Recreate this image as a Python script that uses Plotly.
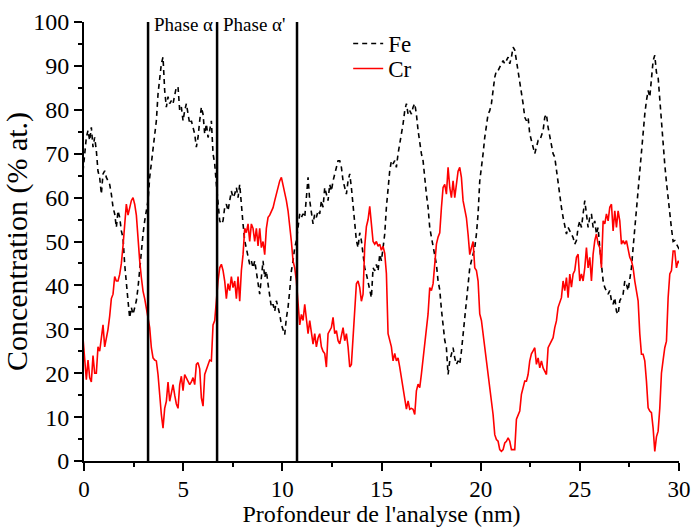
import plotly.graph_objects as go

# Depth sampling grid (nm): uniform step, start
DEPTH_START = -0.05
DEPTH_STEP = 0.08405

FE = [
    66, 70, 73.7, 75.3, 73, 76, 71.5, 73.7, 70.7, 66,
    64.6, 60.8, 65.4, 66.1, 64.6, 63.8, 63, 60.8, 57.8, 56.3,
    53.2, 57, 55.5, 52.4, 50.9, 44.8, 39.5, 36.5, 32.6, 35,
    33.4, 35, 36.5, 39.5, 44, 48.6, 51.7, 54.7, 57, 59.3,
    64.6, 67.7, 71.5, 74.5, 77.5, 83.6, 87.4, 90.5, 92, 84.4,
    80.6, 83, 81.4, 82.1, 81.4, 83.6, 85.2, 85.2, 79.8, 80.6,
    77.5, 79.8, 81.4, 79.1, 76.8, 77.5, 76, 74.5, 71.5, 73.7,
    # 70
    77.5, 80.6, 79, 74.5, 76.8, 73.7, 75.3, 77.5, 70, 67.7,
    63, 58.5, 54.7, 54, 54.7, 57.8, 58.5, 57, 59.3, 61.5,
    60, 60.8, 62.3, 60, 63, 57.8, 54, 50.2, 48.6, 46.4,
    44.8, 45.6, 44, 45.6, 43.3, 41, 38, 41.8, 45.6, 41.8,
    43.3, 40.3, 37.2, 35, 35.7, 34.1, 36.5, 35, 33.4, 31.1,
    29.6, 28.8, 32.6, 35, 38.8, 43.3, 45.6, 48.6, 50.2, 53.2,
    56.3, 55.5, 56.3, 55.5, 60.8, 64.6, 59.3, 56.3, 54, 56.3,
    55.5, 57,
    # 142
    56.3, 59.3, 57.8, 62.3, 60.8, 59.3, 63, 61.5, 63.8, 65.4,
    66.9, 68.4, 68.4, 66.9, 63.8, 62.3, 60.8, 63.8, 65.4, 62.3,
    57.8, 54.7, 50.2, 48.6, 52, 50.2, 47.1, 44, 42.6, 41,
    38.8, 37.2, 44, 43.3, 44.8, 43.3, 47.1, 45.6, 48.6, 51.7,
    57.8, 62.3, 66.1, 68.4, 67.7, 68.4, 66.9, 70, 72.2, 73.7,
    76.8, 79.8, 81.4, 79, 79.8, 79, 80.6, 81.4, 79, 75.3,
    72.2, 70, 68.4, 63.8, 60.8, 57.8, 53.2, 51, 48.6, 47.1,
    44.8, 41,
    # 214
    39, 34.5, 30, 27.5, 25.8, 19.7, 22.8, 24.3, 25.8, 23.5,
    22, 22.8, 22, 25, 28.8, 31.1, 35.7, 38.8, 44, 45.6,
    47.1, 48.6, 51.7, 56.3, 63.8, 67.7, 70, 73.7, 76.8, 79,
    79.8, 81.4, 84.4, 87.4, 88.9, 88.9, 89.7, 90.5, 91.2, 90.5,
    91.2, 92, 90.5, 92, 94.3, 93.6, 91.2, 88.9, 86.6, 84.4,
    81.4, 78.3, 77.5, 78.3, 74.5, 73, 71.5, 70, 71.5, 73,
    73, 74.5, 75.3, 78.3, 79, 76, 73.7, 71.5, 70, 69.2,
    66.1, 63.8,
    # 286
    60.8, 57.8, 55.5, 53.2, 51.7, 53.2, 52.4, 51.7, 50.9, 49.4,
    50.2, 53.2, 54.7, 53.2, 56.3, 59.3, 56.3, 53.2, 55.5, 56.3,
    53.2, 54.7, 51.7, 53.2, 48.6, 44, 41, 39.5, 38.8, 38,
    38.8, 36.5, 35.7, 37.2, 34.1, 33.4, 36.5, 37.2, 38, 41,
    40.3, 38.8, 41, 44, 48.6, 53.2, 57.8, 60.8, 65.4, 70.7,
    74.5, 79, 82.1, 84.4, 82.9, 87.4, 91.2, 92.4, 88.5, 87.4,
    82, 76, 71, 67.5, 63.5, 59.5, 56, 53, 50, 50.2,
    49.4, 48.6, 48,
]

CR = [
    28, 24, 18.5, 23, 19, 18, 24, 20, 20, 26,
    25, 28, 31, 26, 28, 30, 33, 37, 38, 42,
    41, 41, 42.5, 45, 49, 55, 58.5, 56, 58, 59.3,
    60, 58.5, 56, 50, 45.6, 41.8, 38.7, 37, 35, 32.6,
    30.4, 25.8, 23.5, 23, 22.8, 19.7, 14.4, 10.6, 7.5, 12,
    13.6, 18, 13.6, 16, 17.4, 15, 13, 12, 17.4, 19.3,
    16, 19.7, 19, 18, 17.4, 18, 19, 17.4, 22, 22.4,
    # 70
    21, 14.4, 12.5, 19.7, 21, 22, 23, 22.8, 31, 32,
    37, 41, 44, 44.8, 43.4, 41, 37, 40.4, 38.8, 42,
    39.5, 41, 37, 42, 36.4, 43.4, 47, 53, 52, 54,
    50, 54, 53, 50, 53, 49, 53, 48.6, 50, 47,
    53, 55.5, 56, 57, 57.7, 59.3, 60.8, 62.3, 63.8, 64.6,
    63, 60.8, 59.3, 57, 54, 50, 45.6, 44, 41, 36.4,
    31, 33.4, 32, 35.7, 32, 29, 32, 29, 26.6, 29,
    26, 28,
    # 142
    29, 26, 25, 24.5, 21.4, 29, 29.7, 30.4, 32.7, 29,
    29.7, 27.4, 26.7, 29, 30.4, 27.4, 29, 26, 21.4, 22,
    29, 33.5, 40.4, 41, 39.5, 36.4, 38, 48.9, 53.4, 55,
    58, 54, 50, 49.4, 50, 48.9, 49.4, 48, 48.9, 47.3,
    42.7, 29, 27.4, 26, 22.8, 24.5, 22.8, 23.5, 21.4, 19,
    17.5, 15.2, 11.8, 13.7, 11.8, 12, 11.8, 10.6, 16, 17.5,
    16.7, 19.8, 23.5, 26, 29.7, 33.5, 39.5, 38.8, 40.4, 45,
    49.4, 51,
    # 214
    52, 57.7, 62.3, 63, 60.8, 66.9, 62.3, 60, 63.8, 60,
    63.8, 66, 66.9, 64.6, 59.3, 57.7, 55.4, 51.6, 47, 48.6,
    50, 44, 43.4, 41, 33.5, 32, 29, 26, 22.8, 19,
    16, 13.7, 10.6, 6, 4.9, 4.5, 2.6, 2.2, 2.6, 4.1,
    4.5, 5.3, 4.5, 2.6, 2.6, 2.6, 9.5, 10.6, 11.4, 15.2,
    16.7, 18.2, 18.2, 19.7, 22.8, 24.4, 25.1, 25.8, 22, 23.5,
    21.2, 22.8, 21.2, 20.5, 19.7, 25.8, 26.6, 27.4, 28.1, 30.4,
    31.9, 35,
    # 286
    36, 37.2, 41, 38.8, 41.8, 37.2, 42.6, 39.6, 42.6, 43.4,
    46.4, 47.1, 41, 42.6, 41, 44, 48.6, 44, 46.4, 41,
    47.1, 50.2, 51.7, 49.4, 48.6, 44, 54.7, 54, 56.3, 54.7,
    57.8, 58.5, 52.4, 57, 53.2, 57, 54.7, 49.4, 50.2, 49.4,
    50.2, 48.6, 46.4, 45.6, 44, 41, 38.8, 36.5, 29, 24.3,
    24.3, 22.8, 18.2, 12.1, 11.4, 11, 7.5, 2.2, 5.5, 6.8,
    12, 20, 23, 25.8, 27.3, 37.2, 42.6, 43.4, 47.8, 47.8,
    44, 45.6, 45,
]

DEPTH = [round(DEPTH_START + DEPTH_STEP * i, 3) for i in range(len(FE))]

PHASE_BOUNDS = [3.23, 6.71, 10.74]
PHASE_LABELS = ["Phase α", "Phase α'"]

FONT = "Liberation Serif, Times New Roman, serif"

fig = go.Figure()
fig.add_trace(go.Scatter(
    x=DEPTH, y=FE, mode="lines", name="Fe", legend="legend",
    line=dict(color="black", width=1.6, dash="5px,4px"),
))
fig.add_trace(go.Scatter(
    x=DEPTH, y=CR, mode="lines", name="Cr", legend="legend2",
    line=dict(color="#ff0000", width=1.6),
))

for b in PHASE_BOUNDS:
    fig.add_shape(type="line", xref="x", yref="y", x0=b, x1=b, y0=0, y1=100,
                  line=dict(color="black", width=2.5))

for b, lab in zip(PHASE_BOUNDS[:2], PHASE_LABELS):
    fig.add_annotation(x=b, y=100, xref="x", yref="y", text=lab,
                       showarrow=False, xanchor="left", yanchor="middle",
                       xshift=4, yshift=-2,
                       font=dict(family=FONT, size=19, color="black"))

legend_common = dict(xanchor="left", yanchor="top", bgcolor="rgba(0,0,0,0)",
                     font=dict(family=FONT, size=23), itemwidth=30)

fig.update_layout(
    width=694, height=527,
    margin=dict(l=84, r=15, t=22, b=66),
    paper_bgcolor="white", plot_bgcolor="white",
    font=dict(family=FONT, color="black"),
    showlegend=True,
    legend=dict(x=0.444, y=1.0, **legend_common),
    legend2=dict(x=0.444, y=0.943, **legend_common),
)
fig.update_xaxes(
    range=[0, 30], tickmode="linear", tick0=0, dtick=5,
    showline=True, linecolor="black", linewidth=2,
    ticks="outside", ticklen=8, tickwidth=2, tickcolor="black",
    minor=dict(ticks="outside", ticklen=4, tickwidth=2, dtick=2.5, tickcolor="black"),
    showgrid=False, zeroline=False, automargin=False,
    tickfont=dict(family=FONT, size=23), ticklabelstandoff=-2,
    title=dict(text="Profondeur de l'analyse (nm)", font=dict(family=FONT, size=24), standoff=2),
)
fig.update_yaxes(
    range=[0, 100], tickmode="linear", tick0=0, dtick=10,
    showline=True, linecolor="black", linewidth=2,
    ticks="outside", ticklen=8, tickwidth=2, tickcolor="black",
    minor=dict(ticks="outside", ticklen=4, tickwidth=2, dtick=5, tickcolor="black"),
    showgrid=False, zeroline=False, automargin=False,
    tickfont=dict(family=FONT, size=24),
    title=dict(text="Concentration (% at.)", font=dict(family=FONT, size=30), standoff=0),
)

fig.write_html("out.html")
